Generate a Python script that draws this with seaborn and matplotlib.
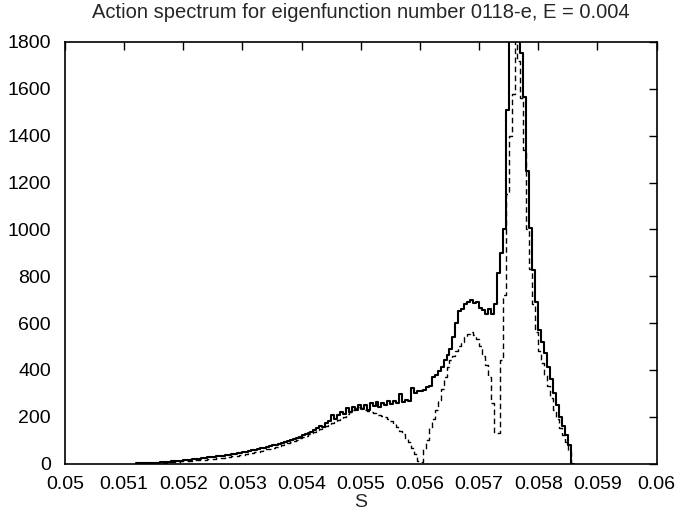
import numpy as np
import pandas as pd
import matplotlib
matplotlib.use("Agg")
import matplotlib.pyplot as plt
import seaborn as sns

# ---- data (histogram bins of width 0.00005 starting at S = 0.0512) ----
bin_start = 0.0512
bin_width = 0.00005

total = [
    1, 1, 2, 2, 3, 3, 4, 4, 5, 6,
    7, 8, 9, 10, 11, 12, 14, 15, 17, 18,
    20, 21, 23, 24, 26, 27, 29, 30, 32, 34,
    36, 38, 40, 42, 44, 46, 49, 51, 54, 56,
    59, 62, 65, 68, 71, 74, 78, 81, 85, 89,
    93, 97, 101, 106, 110, 115, 120, 125, 131, 136,
    142, 150, 162, 155, 172, 180, 205, 188, 205, 218,
    212, 238, 218, 242, 228, 250, 232, 248, 228, 258,
    245, 262, 240, 258, 250, 265, 252, 268, 258, 295,
    262, 270, 265, 322, 300, 308, 310, 315, 325, 330,
    370, 380, 395, 410, 440, 465, 490, 540, 600, 650,
    660, 680, 690, 700, 685, 690, 665, 655, 640, 660,
    640, 680, 815, 900, 1000, 1510, 2300, 2600, 2400, 1950,
    1752, 1567, 1250, 1006, 828, 690, 570, 520, 470, 410,
    360, 300, 250, 200, 160, 120, 80, 0,
]

partial = [
    0, 1, 1, 1, 2, 2, 2, 3, 3, 4,
    4, 5, 6, 7, 8, 9, 10, 11, 12, 13,
    14, 15, 16, 17, 18, 20, 21, 22, 24, 25,
    27, 28, 30, 32, 34, 36, 38, 40, 43, 45,
    48, 51, 54, 57, 60, 64, 67, 71, 75, 79,
    83, 87, 92, 97, 102, 107, 113, 118, 124, 130,
    136, 142, 148, 154, 160, 166, 172, 178, 184, 190,
    200, 210, 220, 230, 238, 240, 235, 230, 225, 220,
    215, 212, 208, 204, 198, 190, 180, 168, 155, 140,
    125, 110, 90, 65, 40, 12, 5, 60, 100, 150,
    190, 230, 270, 320, 370, 410, 440, 460, 480, 500,
    520, 540, 555, 560, 550, 530, 500, 460, 420, 370,
    260, 131, 131, 440, 720, 1150, 1400, 1580, 2000, 1720,
    1560, 1340, 1000, 830, 680, 560, 480, 430, 380, 330,
    280, 230, 190, 150, 120, 90, 50, 0,
]

x_ticks = [0.05, 0.051, 0.052, 0.053, 0.054, 0.055, 0.056, 0.057, 0.058, 0.059, 0.06]
x_tick_labels = ["0.05", "0.051", "0.052", "0.053", "0.054", "0.055",
                 "0.056", "0.057", "0.058", "0.059", "0.06"]
y_ticks = [0, 200, 400, 600, 800, 1000, 1200, 1400, 1600, 1800]

title = "Action spectrum for eigenfunction number 0118-e, E = 0.004"

# ---- build step data: left edges + a closing edge ----
n = len(total)
edges = bin_start + bin_width * np.arange(n + 1)
df_total = pd.DataFrame({"S": edges, "v": list(total) + [total[-1]]})
df_part = pd.DataFrame({"S": edges, "v": list(partial) + [partial[-1]]})

sns.set_style("white")
plt.rcParams["font.family"] = ["Liberation Sans", "DejaVu Sans"]

fig = plt.figure(figsize=(6.8, 5.11), dpi=100)
ax = fig.add_axes([65 / 680, 1 - 463.5 / 511, (656.5 - 65) / 680, (463.5 - 42) / 511])

sns.lineplot(data=df_total, x="S", y="v", ax=ax, color="black",
             linewidth=1.5, drawstyle="steps-post", estimator=None, sort=False)
sns.lineplot(data=df_part, x="S", y="v", ax=ax, color="black",
             linewidth=1.0, linestyle=(0, (4, 2.5)), drawstyle="steps-post",
             estimator=None, sort=False)

ax.set_xlim(0.05, 0.06)
ax.set_ylim(0, 1800)
ax.set_xticks(x_ticks)
ax.set_xticklabels(x_tick_labels)
ax.set_yticks(y_ticks)
ax.tick_params(direction="in", length=6, width=1, top=True, right=True,
               labelsize=14, colors="black")
ax.tick_params(axis="x", pad=9)
ax.tick_params(axis="y", pad=10)
for sp in ax.spines.values():
    sp.set_color("black")
    sp.set_linewidth(1.2)
ax.set_xlabel("S", fontsize=14, labelpad=1)
ax.set_ylabel("")
fig.text(361 / 680, 1 - 13 / 511, title, ha="center", va="center", fontsize=14.5)

fig.savefig("out.png", dpi=100)
